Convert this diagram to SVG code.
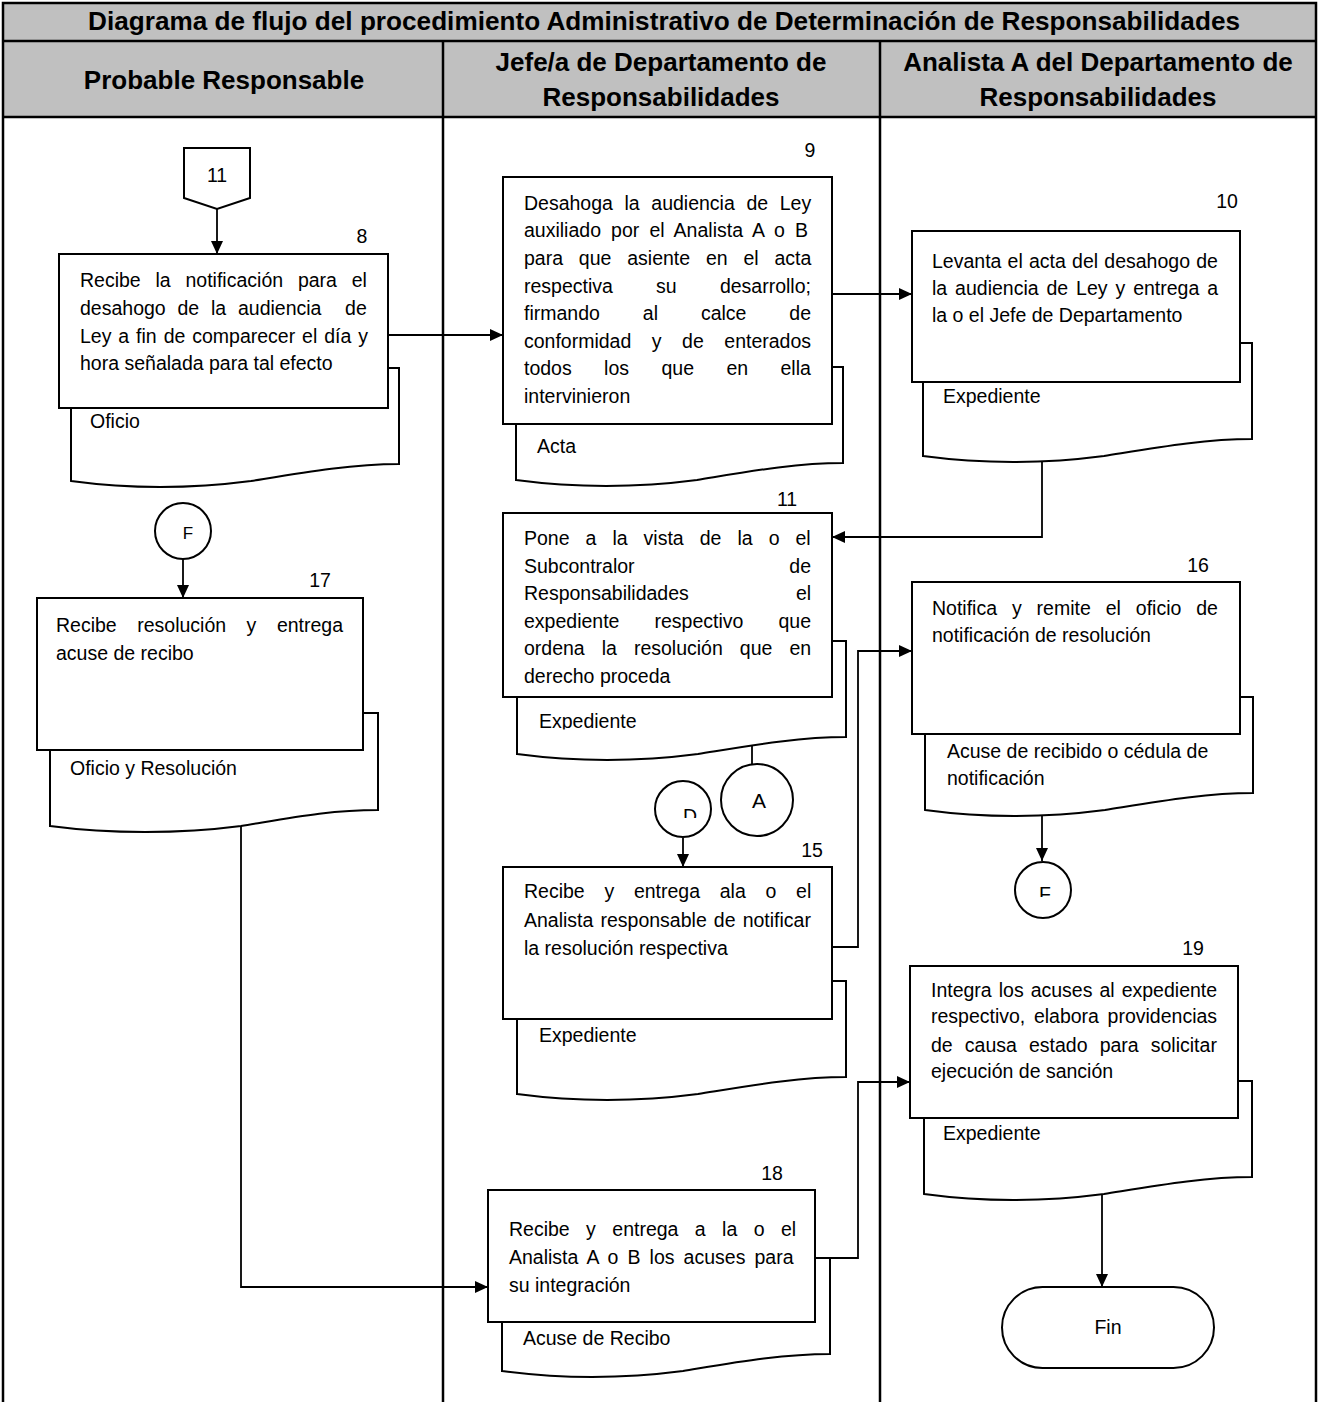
<svg xmlns="http://www.w3.org/2000/svg" width="1319" height="1402" viewBox="0 0 1319 1402">
  <style>
    .t { font-family: "Liberation Sans", Arial, sans-serif; font-size: 19.5px; fill: #000; }
    .e { text-anchor: end; }
    .c { text-anchor: middle; }
    .h { font-family: "Liberation Sans", Arial, sans-serif; font-size: 26px; font-weight: bold; fill: #000; text-anchor: middle; }
    .box { fill: #fff; stroke: #000; stroke-width: 2; }
    .doc { fill: #fff; stroke: #000; stroke-width: 2; }
    .grid { fill: none; stroke: #000; stroke-width: 2.5; }
    .hdr { fill: #c0c0c0; stroke: none; }
    .ln { fill: none; stroke: #000; stroke-width: 1.8; }
    .arr { fill: none; stroke: #000; stroke-width: 1.8; marker-end: url(#ah); }
  </style>
  <defs>
    <marker id="ah" markerUnits="userSpaceOnUse" markerWidth="13" markerHeight="12" viewBox="0 0 13 12" refX="13" refY="6" orient="auto">
      <path d="M0,0 L13,6 L0,12 Z" fill="#000"/>
    </marker>
    <clipPath id="clipExp11"><rect x="500" y="690" width="340" height="39.5"/></clipPath>
    <clipPath id="clipD"><rect x="650" y="790" width="70" height="28"/></clipPath>
    <clipPath id="clipF3"><rect x="1010" y="870" width="70" height="27"/></clipPath>
  </defs>

  <rect width="1319" height="1402" fill="#fff"/>

  <!-- swimlane table -->
  <g id="table">
    <rect class="hdr" x="3" y="3" width="1313" height="114"/>
    <path class="grid" d="M3,1402 V3 H1316 V1402 M3,41 H1316 M3,117 H1316 M443,41 V1402 M880,41 V1402"/>
    <text class="h" x="664" y="30" textLength="1152" lengthAdjust="spacingAndGlyphs">Diagrama de flujo del procedimiento Administrativo de Determinación de Responsabilidades</text>
    <text class="h" x="224" y="89">Probable Responsable</text>
    <text class="h" x="661" y="71">Jefe/a de Departamento de</text>
    <text class="h" x="661" y="106">Responsabilidades</text>
    <text class="h" x="1098" y="71">Analista A del Departamento de</text>
    <text class="h" x="1098" y="106">Responsabilidades</text>
  </g>

  <!-- connectors -->
  <g id="connectors">
    <path class="arr" d="M217,209 V254"/>
    <path class="arr" d="M388,335 H503"/>
    <path class="arr" d="M832,294 H912"/>
    <path class="arr" d="M1042,455 V537 H832"/>
    <path class="ln" d="M752,740 V764"/>
    <path class="arr" d="M683,838 V867"/>
    <path class="arr" d="M832,947 H858 V651 H912"/>
    <path class="arr" d="M1042,805 V861"/>
    <path class="arr" d="M183,559 V598"/>
    <path class="arr" d="M241,815 V1287 H488"/>
    <path class="arr" d="M815,1258 H858 V1082 H910"/>
    <path class="arr" d="M1102,1185 V1287"/>
  </g>

  <!-- Probable Responsable lane -->
  <g id="conn-11">
    <path class="box" d="M184,148 H250 V198 L217,209 L184,198 Z"/>
    <text class="t c" x="217" y="182">11</text>
  </g>

  <g id="step-8">
    <path class="doc" d="M71,368 H399 V464 C350,464 300,473 251,481 C190,489 130,489 71,481 Z"/>
    <text class="t" x="90" y="428">Oficio</text>
    <rect class="box" x="59" y="254" width="329" height="154"/>
    <text class="t c" x="362" y="243">8</text>
    <text class="t" x="80" y="287" style="word-spacing:9.4px">Recibe la notificación para el</text>
    <text class="t" x="80" y="315" style="word-spacing:6.4px" xml:space="preserve">desahogo de la audiencia  de</text>
    <text class="t" x="80" y="343" style="word-spacing:1.5px">Ley a fin de comparecer el día y</text>
    <text class="t" x="80" y="370">hora señalada para tal efecto</text>
  </g>

  <g id="conn-F1">
    <circle class="box" cx="183" cy="531" r="28"/>
    <text class="t c" x="188" y="539" style="font-size:17px">F</text>
  </g>

  <g id="step-17">
    <path class="doc" d="M50,713 H378 V810 C329,810 290,818 241,826 C180,834 110,834 50,826 Z"/>
    <text class="t" x="70" y="775">Oficio y Resolución</text>
    <rect class="box" x="37" y="598" width="326" height="152"/>
    <text class="t c" x="320" y="587">17</text>
    <text class="t" x="56" y="632" style="word-spacing:15.1px">Recibe resolución y entrega</text>
    <text class="t" x="56" y="660">acuse de recibo</text>
  </g>

  <!-- Jefe/a de Departamento lane -->
  <g id="step-9">
    <path class="doc" d="M516,367 H843 V463 C794,463 746,472 697,480 C636,488 576,488 516,480 Z"/>
    <text class="t" x="537" y="453">Acta</text>
    <rect class="box" x="503" y="177" width="329" height="247"/>
    <text class="t c" x="810" y="157">9</text>
    <text class="t" x="524" y="210" style="word-spacing:6.2px">Desahoga la audiencia de Ley</text>
    <text class="t" x="524" y="237" style="word-spacing:4.7px">auxiliado por el Analista A o B</text>
    <text class="t" x="524" y="265" style="word-spacing:10.4px">para que asiente en el acta</text>
    <text class="t" x="524" y="293" style="word-spacing:37.8px">respectiva su desarrollo;</text>
    <text class="t" x="524" y="320" style="word-spacing:37.5px">firmando al calce de</text>
    <text class="t" x="524" y="348" style="word-spacing:15.1px">conformidad y de enterados</text>
    <text class="t" x="524" y="375" style="word-spacing:27px">todos los que en ella</text>
    <text class="t" x="524" y="403">intervinieron</text>
  </g>

  <g id="step-11">
    <path class="doc" d="M517,641 H846 V737 C797,737 748,746 698,754 C637,762 577,762 517,754 Z"/>
    <text class="t" x="539" y="728" clip-path="url(#clipExp11)">Expediente</text>
    <rect class="box" x="503" y="513" width="329" height="184"/>
    <text class="t c" x="787" y="506">11</text>
    <text class="t" x="524" y="545" style="word-spacing:10.6px">Pone a la vista de la o el</text>
    <text class="t" x="524" y="573" style="word-spacing:149.3px">Subcontralor de</text>
    <text class="t" x="524" y="600" style="word-spacing:101.7px">Responsabilidades el</text>
    <text class="t" x="524" y="628" style="word-spacing:29.7px">expediente respectivo que</text>
    <text class="t" x="524" y="655" style="word-spacing:11.6px">ordena la resolución que en</text>
    <text class="t" x="524" y="683">derecho proceda</text>
  </g>

  <g id="conn-A">
    <circle class="box" cx="757" cy="800" r="36"/>
    <text class="t c" x="759" y="808" style="font-size:21px">A</text>
  </g>

  <g id="conn-D">
    <circle class="box" cx="683" cy="809" r="28"/>
    <text class="t c" x="690" y="823" clip-path="url(#clipD)">D</text>
  </g>

  <g id="step-15">
    <path class="doc" d="M517,981 H846 V1077 C797,1077 748,1086 698,1094 C637,1102 577,1102 517,1094 Z"/>
    <text class="t" x="539" y="1042">Expediente</text>
    <rect class="box" x="503" y="867" width="329" height="152"/>
    <text class="t c" x="812" y="857">15</text>
    <text class="t" x="524" y="898" style="word-spacing:14.3px">Recibe y entrega ala o el</text>
    <text class="t" x="524" y="927" style="word-spacing:1.7px">Analista responsable de notificar</text>
    <text class="t" x="524" y="955">la resolución respectiva</text>
  </g>

  <g id="step-18">
    <path class="doc" d="M502,1258 H830 V1354 C781,1354 732,1363 683,1371 C622,1379 562,1379 502,1371 Z"/>
    <text class="t" x="523" y="1345">Acuse de Recibo</text>
    <rect class="box" x="488" y="1190" width="327" height="132"/>
    <text class="t c" x="772" y="1180">18</text>
    <text class="t" x="509" y="1236" style="word-spacing:11px">Recibe y entrega a la o el</text>
    <text class="t" x="509" y="1264" style="word-spacing:3.7px">Analista A o B los acuses para</text>
    <text class="t" x="509" y="1292">su integración</text>
  </g>

  <!-- Analista A lane -->
  <g id="step-10">
    <path class="doc" d="M923,343 H1252 V439 C1203,439 1154,448 1104,456 C1043,464 983,464 923,456 Z"/>
    <text class="t" x="943" y="403">Expediente</text>
    <rect class="box" x="912" y="231" width="328" height="151"/>
    <text class="t c" x="1227" y="208">10</text>
    <text class="t" x="932" y="268" style="word-spacing:0.8px">Levanta el acta del desahogo de</text>
    <text class="t" x="932" y="295" style="word-spacing:2.5px">la audiencia de Ley y entrega a</text>
    <text class="t" x="932" y="322">la o el Jefe de Departamento</text>
  </g>

  <g id="step-16">
    <path class="doc" d="M925,697 H1253 V793 C1204,793 1155,802 1105,810 C1044,818 984,818 925,810 Z"/>
    <text class="t" x="947" y="758">Acuse de recibido o cédula de</text>
    <text class="t" x="947" y="785">notificación</text>
    <rect class="box" x="912" y="582" width="328" height="152"/>
    <text class="t c" x="1198" y="572">16</text>
    <text class="t" x="932" y="615" style="word-spacing:9.5px">Notifica y remite el oficio de</text>
    <text class="t" x="932" y="642">notificación de resolución</text>
  </g>

  <g id="conn-F3">
    <circle class="box" cx="1043" cy="890" r="28"/>
    <text class="t c" x="1045" y="901" clip-path="url(#clipF3)">F</text>
  </g>

  <g id="step-19">
    <path class="doc" d="M924,1081 H1252 V1177 C1203,1177 1154,1186 1104,1194 C1043,1202 983,1202 924,1194 Z"/>
    <text class="t" x="943" y="1140">Expediente</text>
    <rect class="box" x="910" y="966" width="328" height="152"/>
    <text class="t c" x="1193" y="955">19</text>
    <text class="t" x="931" y="997" style="word-spacing:1.6px">Integra los acuses al expediente</text>
    <text class="t" x="931" y="1023" style="word-spacing:3.2px">respectivo, elabora providencias</text>
    <text class="t" x="931" y="1052" style="word-spacing:6.7px">de causa estado para solicitar</text>
    <text class="t" x="931" y="1078">ejecución de sanción</text>
  </g>

  <g id="end">
    <rect class="box" x="1002" y="1287" width="212" height="81" rx="40.5"/>
    <text class="t c" x="1108" y="1334">Fin</text>
  </g>
</svg>
